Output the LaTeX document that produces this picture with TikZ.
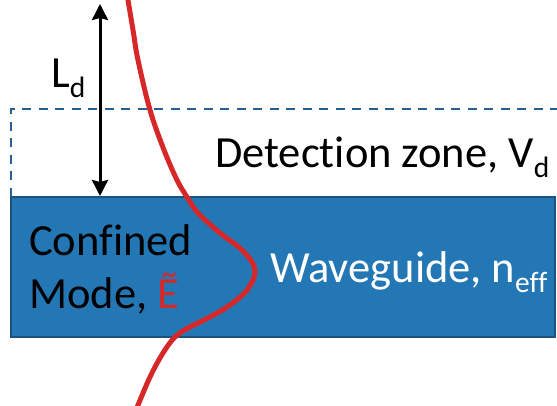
\documentclass[tikz,border=0pt]{standalone}
\usepackage{fontspec}
\setmainfont{Carlito}[Ligatures={NoCommon}]
\usetikzlibrary{arrows.meta}
\definecolor{guideblue}{RGB}{36,119,181}
\definecolor{guideedge}{RGB}{28,82,128}
\definecolor{zonedash}{RGB}{36,96,145}
\definecolor{fieldred}{RGB}{214,40,40}
\newcommand{\lowsub}[1]{\raisebox{-9.5pt}{\fontsize{29.5}{30}\selectfont #1}}
\tikzset{
  label44/.style={inner sep=0pt, anchor=base west, font=\fontsize{44.5}{52}\selectfont},
  zone/.style={draw=zonedash, line width=2.2pt, dash pattern=on 9pt off 7.5pt},
  guide/.style={fill=guideblue, draw=guideedge, line width=1.6pt},
  field/.style={draw=fieldred, line width=5pt},
  depth/.style={draw=black, line width=3pt, {Stealth[length=16pt,width=16pt,inset=2pt]}-{Stealth[length=16pt,width=16pt,inset=2pt]}}
}
\begin{document}
\begin{tikzpicture}[x=1pt,y=-1pt]
\useasboundingbox (0,0) rectangle (557,406);
% waveguide slab
\path[guide] (11,197) rectangle (555,337);
% detection zone outline (dashed)
\draw[zone] (11,197) -- (11,109) -- (559,109);
% evanescent depth
\coordinate (ltop) at (100,4);
\coordinate (lbot) at (100,196);
\draw[depth] (ltop) -- (lbot);
% confined mode profile
\draw[field] plot[smooth, tension=0.6] coordinates {
  (127,-6) (133,30) (138,60) (150,110) (164,150) (177,180) (187,197)
  (198,213) (220,233) (243,251) (255,270) (247,290) (227,307)
  (204,320) (188,328) (175,337) (163,353) (150,377) (136,410)};
% labels
\node[label44] (ld) at (51,88) {L\lowsub{d}};
\node[label44] (dz) at (215,168) {Detection zone, V\lowsub{d}};
\node[label44] (cf) at (29,255) {Confined};
\node[label44] (md) at (29,308) {Mode, \textcolor{fieldred}{Ẽ}};
\node[label44, text=white] (wg) at (270,283) {Waveguide, n\lowsub{eff}};
\end{tikzpicture}
\end{document}
